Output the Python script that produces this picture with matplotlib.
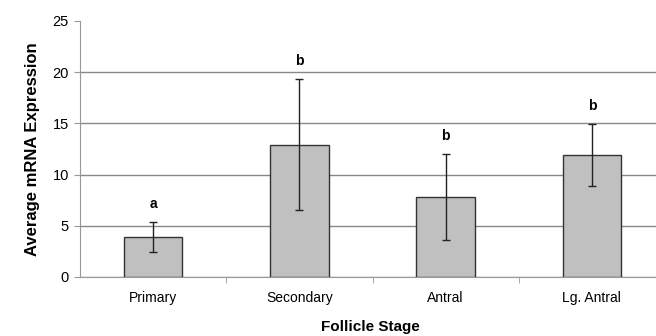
import numpy as np
from matplotlib import pyplot as plt

# data
stages = ['Primary', 'Secondary', 'Antral', 'Lg. Antral']
means = [3.9, 12.9, 7.8, 11.9]
errs = [1.43, 6.4, 4.17, 3.06]
letters = ['a', 'b', 'b', 'b']

plt.rcParams['font.family'] = ['Liberation Sans', 'DejaVu Sans']

fig = plt.figure(figsize=(6.56, 3.36), dpi=100)
ax = fig.add_axes([0.122, 0.176, 0.885, 0.7615])

x = np.arange(len(stages))
ax.bar(x, means, width=0.4, color='#c0c0c0', edgecolor='#333333', linewidth=1.0, zorder=3)
ax.errorbar(x, means, yerr=errs, fmt='none', ecolor='#222222', elinewidth=1.0,
            capsize=3.2, capthick=1.0, zorder=4)

for xi, m, e, t in zip(x, means, errs, letters):
    ax.annotate(t, (xi, m + e), xytext=(0, 8), textcoords='offset points',
                ha='center', va='bottom', fontsize=10, fontweight='bold')

ax.set_xlim(-0.5, 3.47)
ax.set_ylim(0, 25)
ax.set_yticks([0, 5, 10, 15, 20, 25])
ax.set_xticks(x)
ax.set_xticklabels(stages, fontsize=10)
ax.set_xticks([0.5, 1.5, 2.5], minor=True)
ax.tick_params(axis='x', which='major', length=0, pad=10)
ax.tick_params(axis='x', which='minor', length=4, color='#999999', direction='out')
ax.tick_params(axis='y', labelsize=10.5, length=4, color='#999999', pad=4)

ax.yaxis.grid(True, color='#888888', linewidth=1.0, zorder=0)
ax.get_ygridlines()[-1].set_visible(False)
ax.set_axisbelow(True)

for s in ['top', 'right']:
    ax.spines[s].set_visible(False)
ax.spines['left'].set_color('#999999')
ax.spines['bottom'].set_color('#999999')

ax.set_ylabel('Average mRNA Expression', fontsize=12, fontweight='bold', labelpad=9)
ax.set_xlabel('Follicle Stage', fontsize=11, fontweight='bold', labelpad=11)

plt.savefig('out.png', dpi=100)
